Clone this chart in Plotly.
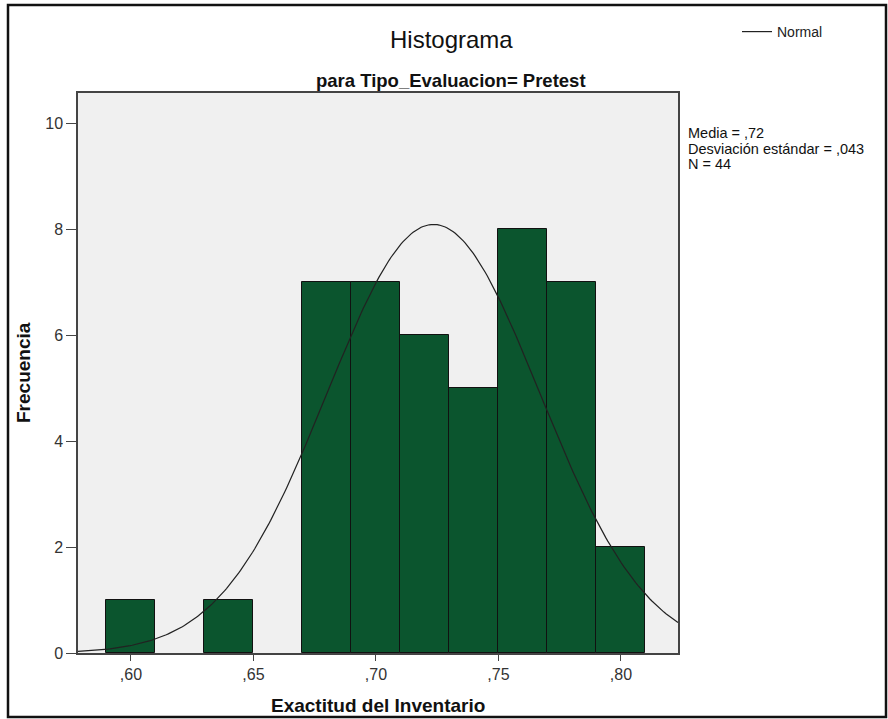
import numpy as np
import plotly.graph_objects as go

# Data
bin_centers = [0.60, 0.64, 0.68, 0.70, 0.72, 0.74, 0.76, 0.78, 0.80]
frequencies = [1, 1, 7, 7, 6, 5, 8, 7, 2]
bin_width = 0.02
mean_val = 0.7235
sd_val = 0.0434
n_val = 44
x_tickvals = [0.60, 0.65, 0.70, 0.75, 0.80]
x_ticktext = [",60", ",65", ",70", ",75", ",80"]
y_tickvals = [0, 2, 4, 6, 8, 10]
stats_lines = ["Media = ,72", "Desviación estándar = ,043", "N = 44"]

x_range = [0.5784, 0.8233]
y_range = [0, 10.57]

# Normal curve from summary statistics
xs = np.linspace(x_range[0], x_range[1], 300)
ys = n_val * bin_width / (sd_val * np.sqrt(2 * np.pi)) * np.exp(-0.5 * ((xs - mean_val) / sd_val) ** 2)

FONT = "Liberation Sans, Arial, sans-serif"

fig = go.Figure()
fig.add_trace(go.Bar(
    x=bin_centers, y=frequencies, width=[bin_width] * len(bin_centers),
    marker=dict(color="#0b552e", line=dict(color="#111111", width=1)),
    showlegend=False, hoverinfo="x+y"
))
fig.add_trace(go.Scatter(
    x=xs, y=ys, mode="lines", name="Normal",
    line=dict(color="#222222", width=1.2), showlegend=True
))

L, R, T, B = 78, 210, 93, 66
W, H = 888, 719
pw, ph = W - L - R, H - T - B

def px(xp):
    return (xp - L) / pw

def py(yp):
    return (H - B - yp) / ph

annotations = [
    dict(text="Histograma", x=px(451), y=py(40), xref="paper", yref="paper",
         showarrow=False, font=dict(family=FONT, size=24, color="#111"),
         xanchor="center", yanchor="middle"),
    dict(text="<b>para Tipo_Evaluacion= Pretest</b>", x=px(451), y=py(80),
         xref="paper", yref="paper", showarrow=False,
         font=dict(family=FONT, size=18.5, color="#111"),
         xanchor="center", yanchor="middle"),
    dict(text="<b>Exactitud del Inventario</b>", x=0.5, y=py(706),
         xref="paper", yref="paper", showarrow=False,
         font=dict(family=FONT, size=19, color="#111"),
         xanchor="center", yanchor="middle"),
    dict(text="<b>Frecuencia</b>", x=px(23), y=py(373), xref="paper", yref="paper",
         showarrow=False, textangle=-90,
         font=dict(family=FONT, size=19, color="#111"),
         xanchor="center", yanchor="middle"),
]
for i, line in enumerate(stats_lines):
    annotations.append(dict(
        text=line, x=px(686), y=py(133 + 15.5 * i), xref="paper", yref="paper",
        showarrow=False, align="left", xanchor="left", yanchor="middle",
        font=dict(family=FONT, size=14.5, color="#111")))

fig.update_layout(
    width=W, height=H,
    margin=dict(l=L, r=R, t=T, b=B, autoexpand=False),
    paper_bgcolor="white", plot_bgcolor="#f0f0f0",
    font=dict(family=FONT, color="#222222"),
    bargap=0,
    showlegend=True,
    legend=dict(x=px(737), y=py(32), xanchor="left", yanchor="middle",
                bgcolor="rgba(0,0,0,0)", font=dict(family=FONT, size=14, color="#222"),
                itemwidth=30, tracegroupgap=0),
    xaxis=dict(range=x_range, tickvals=x_tickvals, ticktext=x_ticktext,
               ticks="outside", ticklen=6, tickcolor="#444", tickwidth=1,
               showgrid=False, zeroline=False, showline=True, linecolor="#444",
               linewidth=1.5, mirror=True,
               tickfont=dict(family=FONT, size=16, color="#333")),
    yaxis=dict(range=y_range, tickvals=y_tickvals,
               ticks="outside", ticklen=10, tickcolor="#444", tickwidth=1,
               showgrid=False, zeroline=False, showline=True, linecolor="#444",
               linewidth=1.5, mirror=True,
               tickfont=dict(family=FONT, size=16, color="#333")),
    annotations=annotations,
    shapes=[
        dict(type="rect", xref="paper", yref="paper",
             x0=px(8), x1=px(886), y0=py(717), y1=py(5),
             line=dict(color="#111", width=2.5), fillcolor="rgba(0,0,0,0)", layer="above"),
    ],
)

fig.write_html("out.html", config={"displayModeBar": False},
               post_script="document.body.style.margin='0';document.body.style.overflow='hidden';")
